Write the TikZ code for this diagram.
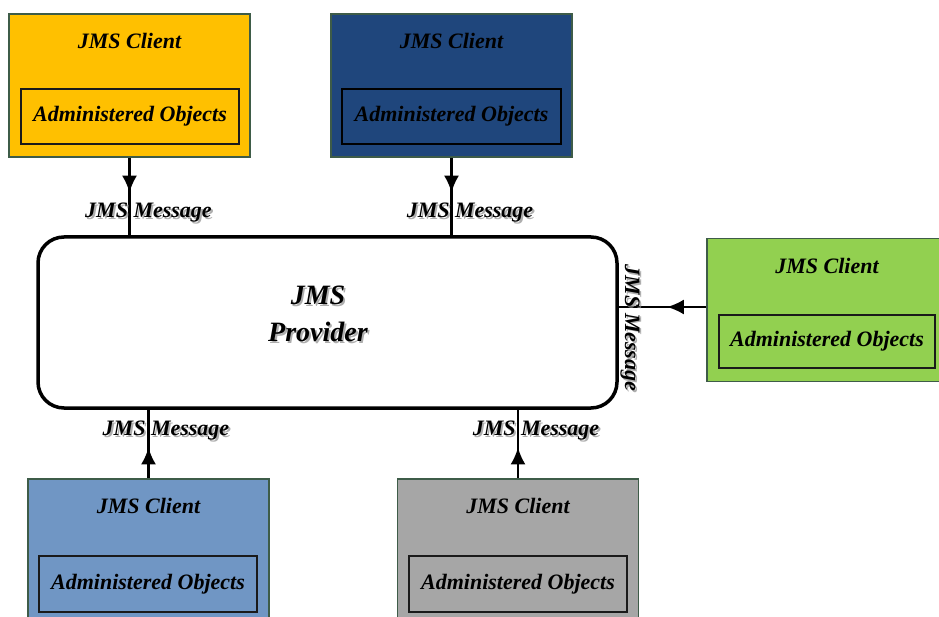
\documentclass[tikz,border=0pt]{standalone}
\usepackage{fontspec}
\setmainfont{Liberation Serif}
\usetikzlibrary{arrows.meta,decorations.markings}

\definecolor{cYellow}{HTML}{FFC000}
\definecolor{cNavy}{HTML}{1F467C}
\definecolor{cGreen}{HTML}{92D050}
\definecolor{cSky}{HTML}{7096C4}
\definecolor{cGrey}{HTML}{A6A6A6}
\definecolor{cFrame}{HTML}{3E5C48}
\definecolor{cInner}{HTML}{1A1A1A}

\tikzset{
  client/.style={draw=cFrame, line width=1.6pt, minimum width=241pt, minimum height=143pt, inner sep=0pt},
  objects/.style={draw=cInner, line width=1.5pt, minimum height=55pt, inner sep=0pt,
    font=\fontsize{22}{26}\selectfont\bfseries\itshape},
  title/.style={font=\fontsize{22}{26}\selectfont\bfseries\itshape, inner sep=0pt},
  provider/.style={draw=black, line width=3.5pt, rounded corners=26pt, fill=white,
    minimum width=579pt, minimum height=171pt, inner sep=0pt},
  ptext/.style={font=\fontsize{28}{37}\selectfont\bfseries\itshape, align=center, inner sep=0pt},
  msgtext/.style={font=\fontsize{22}{26}\selectfont\bfseries\itshape, inner sep=0pt},
  shade/.style={text=black!45, opacity=0.7},
  msg/.style={line width=2.4pt, draw=black,
    decoration={markings, mark=at position 0.45 with {\arrow{Latex[length=17pt,width=15pt]}}},
    postaction=decorate}
}

% a label with a soft grey copy set slightly behind it
\newcommand\ShadowedText[5]{%
  \node[#1, shade, #2] (#3s) at ([shift={(1.8pt,-1.8pt)}]#4) {#5};
  \node[#1, #2] (#3) at (#4) {#5};
}

\begin{document}
\begin{tikzpicture}[x=1pt, y=-1pt]
  \useasboundingbox (0,0) rectangle (939,617);
  \clip (0,0) rectangle (939,617);

  % central provider
  \node[provider] (prov) at (327.5,322.5) {};
  \ShadowedText{ptext}{}{provlabel}{318,314}{JMS\\Provider}

  % clients above the provider
  \node[client, fill=cYellow] (c1) at (129.5,85.5) {};
  \node[title] (c1t) at (129.5,41) {JMS Client};
  \node[objects, minimum width=218pt] (c1o) at (130,116.5) {Administered Objects};

  \node[client, fill=cNavy] (c2) at (451.5,85.5) {};
  \node[title] (c2t) at (451.5,41) {JMS Client};
  \node[objects, minimum width=219pt, draw=black] (c2o) at (451.5,116.5) {Administered Objects};

  % client at the right
  \node[client, fill=cGreen] (c3) at (827.5,310) {};
  \node[title] (c3t) at (827,266) {JMS Client};
  \node[objects, minimum width=216pt, minimum height=53pt] (c3o) at (827,341.5) {Administered Objects};

  % clients below the provider
  \node[client, fill=cSky] (c4) at (148.5,550.5) {};
  \node[title] (c4t) at (148.5,506) {JMS Client};
  \node[objects, minimum width=218pt, minimum height=56pt] (c4o) at (148,584) {Administered Objects};

  \node[client, fill=cGrey] (c5) at (518,550.5) {};
  \node[title] (c5t) at (518,506) {JMS Client};
  \node[objects, minimum width=218pt, minimum height=56pt] (c5o) at (518,584) {Administered Objects};

  % message flows
  \draw[msg] (c1.south) -- (c1.south |- prov.north);
  \draw[msg] (c2.south) -- (c2.south |- prov.north);
  \coordinate (c3in) at ([yshift=3pt]c3.west);
  \draw[msg] (c3in) -- (c3in -| prov.east);
  \draw[msg] (c4.north) -- (c4.north |- prov.south);
  \draw[msg] (c5.north) -- (c5.north |- prov.south);

  % flow labels
  \ShadowedText{msgtext}{}{m1}{148.5,213}{JMS Message}
  \ShadowedText{msgtext}{}{m2}{470,213}{JMS Message}
  \ShadowedText{msgtext}{rotate=-90}{m3}{630,328}{JMS Message}
  \ShadowedText{msgtext}{}{m4}{166,431}{JMS Message}
  \ShadowedText{msgtext}{}{m5}{536,431}{JMS Message}
\end{tikzpicture}
\end{document}
